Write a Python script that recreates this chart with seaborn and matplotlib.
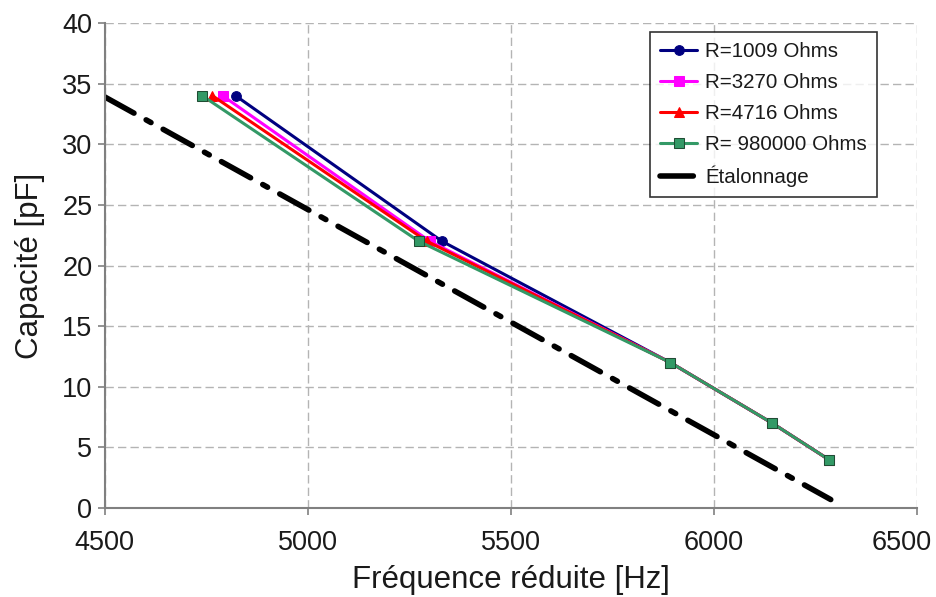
import pandas as pd
import matplotlib
matplotlib.use("Agg")
import matplotlib.pyplot as plt
import matplotlib.transforms as mtransforms
import seaborn as sns

# Values
freq_1009 = [4822, 5330, 5892, 6143, 6282]
freq_3270 = [4790, 5300, 5892, 6143, 6282]
freq_4716 = [4765, 5293, 5892, 6143, 6282]
freq_980000 = [4740, 5273, 5892, 6143, 6282]
capa = [34, 22, 12, 7, 4]

freq_etal = [4500, 6287]
capa_etal = [33.9, 0.7]

sns.set_style("white")
plt.rcParams["font.family"] = ["Liberation Sans", "DejaVu Sans"]
plt.rcParams["text.color"] = "#1a1a1a"
plt.rcParams["axes.labelcolor"] = "#1a1a1a"
plt.rcParams["xtick.labelcolor"] = "#1a1a1a"
plt.rcParams["ytick.labelcolor"] = "#1a1a1a"

fig = plt.figure(figsize=(9.36, 5.97), dpi=100)
ax = fig.add_axes([0.112, 0.149, 0.868, 0.8125])

series = [
    ("R=1009 Ohms", freq_1009, "#000080", "o", "#000080"),
    ("R=3270 Ohms", freq_3270, "#ff00ff", "s", "#ff00ff"),
    ("R=4716 Ohms", freq_4716, "#ff0000", "^", "#ff0000"),
    ("R= 980000 Ohms", freq_980000, "#339966", "s", "#1f4d33"),
]
for label, fx, col, mk, edge in series:
    df = pd.DataFrame({"f": fx, "c": capa})
    sns.lineplot(data=df, x="f", y="c", ax=ax, color=col, linewidth=2.2,
                 marker=mk, markersize=7, markeredgecolor=edge,
                 markerfacecolor=col, label=label, sort=False, estimator=None)

df_etal = pd.DataFrame({"f": freq_etal, "c": capa_etal})
sns.lineplot(data=df_etal, x="f", y="c", ax=ax, color="black", linewidth=4,
             dashes=False, label="Étalonnage", sort=False, estimator=None)
ax.lines[-1].set_dashes([6, 2.5, 1, 2.5])
ax.lines[-1].set_dash_capstyle("round")

ax.set_xlim(4500, 6500)
ax.set_ylim(0, 40)
ax.set_xticks(range(4500, 6501, 500))
ax.set_yticks(range(0, 41, 5))
ax.grid(True, color="#b4b4b4", linestyle=(0, (6, 3)), linewidth=1)
ax.set_axisbelow(True)

for s in ["top", "right"]:
    ax.spines[s].set_visible(False)
for s in ["left", "bottom"]:
    ax.spines[s].set_color("#808080")
    ax.spines[s].set_linewidth(1.5)
ax.tick_params(axis="both", which="both", direction="out", length=5,
               width=1.2, color="#808080", labelsize=19.5)
ax.tick_params(axis="x", pad=11)
ax.tick_params(axis="y", pad=4)
ax.tick_params(left=True, bottom=True)

# last x label kept inside the figure, as in the original
last = ax.get_xticklabels()[-1]
last.set_transform(last.get_transform() +
                   mtransforms.ScaledTranslation(-16 / 100, 0, fig.dpi_scale_trans))

ax.set_xlabel("Fréquence réduite [Hz]", fontsize=22.5, labelpad=6)
ax.set_ylabel("Capacité [pF]", fontsize=22.5, labelpad=12)

leg = ax.legend(loc="upper right", bbox_to_anchor=(0.951, 0.982), fontsize=14.8,
                frameon=True, fancybox=False, handlelength=1.8, borderpad=0.5,
                labelspacing=0.58, handletextpad=0.4, borderaxespad=0)
leg.get_frame().set_edgecolor("black")
leg.get_frame().set_linewidth(1.2)

fig.savefig("out.png", dpi=100)
